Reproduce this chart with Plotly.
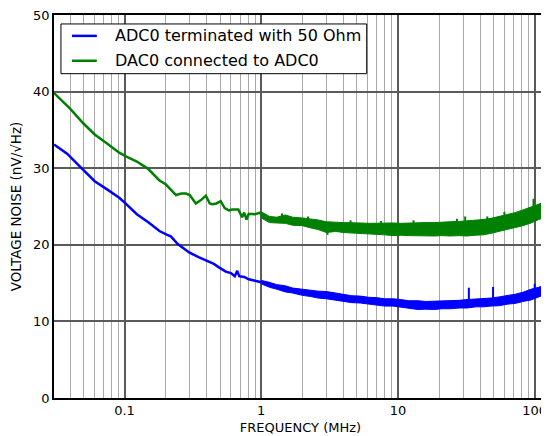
import plotly.graph_objects as go

# ---- low-frequency (clean) part of each trace ----
adc_f = [0.0305, 0.038, 0.0484, 0.0605, 0.075, 0.092, 0.103, 0.123, 0.15, 0.18, 0.205, 0.218,
         0.245, 0.27, 0.297, 0.351, 0.404, 0.45, 0.49, 0.55, 0.6, 0.64, 0.667, 0.69, 0.75,
         0.81, 0.9, 1.0]
adc_v = [33.1, 31.9, 30.0, 28.3, 27.2, 26.1, 25.3, 24.0, 22.9, 21.8, 21.3, 21.1,
         20.1, 19.6, 19.0, 18.35, 17.9, 17.5, 17.05, 16.5, 16.3, 15.9, 16.6, 15.9, 15.8,
         15.5, 15.3, 15.1]

dac_f = [0.0305, 0.0398, 0.0497, 0.0605, 0.0736, 0.092, 0.106, 0.122, 0.148, 0.18, 0.2,
         0.238, 0.26, 0.281, 0.30, 0.332, 0.36, 0.393, 0.42, 0.439, 0.47, 0.505, 0.54,
         0.58, 0.613, 0.68, 0.724, 0.75, 0.78, 0.81, 0.9, 0.98, 1.0]
dac_v = [39.8, 37.8, 35.9, 34.4, 33.3, 32.0, 31.4, 30.9, 29.95, 28.4, 27.9,
         26.5, 26.7, 26.7, 26.5, 25.4, 25.8, 26.4, 25.4, 25.3, 25.4, 25.7, 24.8,
         24.5, 24.6, 24.6, 23.6, 24.2, 23.3, 24.05, 24.0, 24.2, 23.9]

# ---- high-frequency noise band (lower / upper envelope) ----
band_f = [1.0, 1.15, 1.3, 1.5, 1.7, 2.0, 2.3, 2.6, 3.0, 3.5, 4.0, 4.6, 5.3, 6.1, 7.0, 8.0,
          9.2, 10.5, 12, 14, 16, 18.5, 21, 24, 28, 32, 37, 42, 48, 55, 63, 72, 82, 94, 107, 122]
adc_lo = [14.9, 14.45, 14.2, 13.85, 13.7, 13.4, 13.25, 13.05, 12.95, 12.75, 12.6, 12.45, 12.4,
          12.25, 12.15, 12.0, 12.0, 11.85, 11.75, 11.55, 11.6, 11.55, 11.65, 11.65, 11.75, 11.75,
          11.9, 11.9, 12.0, 12.05, 12.25, 12.35, 12.6, 12.8, 13.2, 13.55]
adc_hi = [15.35, 15.1, 14.8, 14.65, 14.35, 14.2, 14.05, 13.95, 13.9, 13.65, 13.5, 13.35, 13.3,
          13.15, 13.1, 12.95, 12.95, 12.85, 12.7, 12.7, 12.6, 12.65, 12.6, 12.7, 12.75, 12.85,
          12.9, 13.0, 13.05, 13.2, 13.35, 13.55, 13.8, 14.2, 14.45, 14.85]
dac_lo = [23.5, 22.9, 22.85, 22.8, 22.55, 22.5, 22.2, 22.0, 21.6, 21.75, 21.6, 21.55, 21.45,
          21.45, 21.35, 21.3, 21.2, 21.25, 21.2, 21.15, 21.2, 21.15, 21.2, 21.15, 21.2, 21.15,
          21.25, 21.3, 21.5, 21.75, 22.0, 22.2, 22.5, 22.85, 23.3, 23.6]
dac_hi = [24.3, 23.7, 23.6, 23.9, 23.6, 23.5, 23.4, 23.25, 23.0, 22.95, 22.9, 22.85, 22.85, 22.8,
          22.85, 22.8, 22.85, 22.8, 22.85, 22.85, 22.9, 22.9, 22.9, 23.0, 23.05, 23.1, 23.2, 23.3,
          23.45, 23.7, 23.95, 24.2, 24.55, 24.9, 25.3, 25.7]

# ---- isolated spurs (frequency, spur tip, level the spur starts from) ----
adc_spur_f = [33.0, 49.6, 100.0]
adc_spur_top = [14.4, 14.5, 14.9]
adc_spur_base = [12.6, 12.7, 13.6]
dac_spur_f = [1.42, 2.2, 3.05, 4.5, 7.5, 13.0, 27.0, 31.0, 45.0, 60.0, 98.0]
dac_spur_top = [24.1, 23.7, 21.3, 23.2, 23.1, 23.2, 23.4, 23.7, 23.7, 24.3, 26.0]
dac_spur_base = [23.3, 22.9, 22.3, 22.2, 22.1, 22.0, 22.0, 22.0, 22.3, 22.8, 24.0]

series_names = ["ADC0 terminated with 50 Ohm", "DAC0 connected to ADC0"]

x_ticks = [0.1, 1, 10, 100]
x_tick_text = ["0.1", "1", "10", "100"]
x_minor = [0.04, 0.05, 0.06, 0.07, 0.08, 0.09, 0.2, 0.3, 0.4, 0.5, 0.6, 0.7, 0.8, 0.9,
           2, 3, 4, 5, 6, 7, 8, 9, 20, 30, 40, 50, 60, 70, 80, 90]
y_ticks = [0, 10, 20, 30, 40, 50]

BLUE = "#0000ff"
GREEN = "#008000"

fig = go.Figure()


def add_series(name, color, f, v, lo, hi, spur_f, spur_top, spur_base):
    fig.add_trace(go.Scatter(x=band_f + band_f[::-1], y=lo + hi[::-1], mode="lines",
                             fill="toself", fillcolor=color,
                             line=dict(color=color, width=1), showlegend=False,
                             hoverinfo="skip"))
    sx, sy = [], []
    for fx, ft, fb in zip(spur_f, spur_top, spur_base):
        sx += [fx, fx, None]
        sy += [fb, ft, None]
    fig.add_trace(go.Scatter(x=sx, y=sy, mode="lines", line=dict(color=color, width=2),
                             showlegend=False, hoverinfo="skip"))
    fig.add_trace(go.Scatter(x=f, y=v, mode="lines", name=name, showlegend=False,
                             line=dict(color=color, width=2.5)))


add_series(series_names[0], BLUE, adc_f, adc_v, adc_lo, adc_hi,
           adc_spur_f, adc_spur_top, adc_spur_base)
add_series(series_names[1], GREEN, dac_f, dac_v, dac_lo, dac_hi,
           dac_spur_f, dac_spur_top, dac_spur_base)

# ---- legend box (drawn in paper coordinates) ----
fig.add_shape(type="rect", xref="paper", yref="paper", x0=0.0141, x1=0.6343,
              y0=0.8468, y1=0.9766, line=dict(color="black", width=1), fillcolor="white",
              layer="above")
for row_y, name, color in zip([0.9455, 0.8805], series_names, [BLUE, GREEN]):
    fig.add_shape(type="line", xref="paper", yref="paper", x0=0.0364, x1=0.0869,
                  y0=row_y, y1=row_y, line=dict(color=color, width=2.5), layer="above")
    fig.add_annotation(xref="paper", yref="paper", x=0.1192, y=row_y, text=name,
                       showarrow=False, xanchor="left", yanchor="middle",
                       font=dict(size=16, family="DejaVu Sans", color="black"))

# The page body adds an 8 px offset; size/margins compensate for it.
fig.update_layout(
    width=541, height=428,
    margin=dict(l=46, r=0, t=5, b=38),
    paper_bgcolor="white", plot_bgcolor="white",
    font=dict(family="DejaVu Sans", size=13, color="black"),
    showlegend=False,
    xaxis=dict(type="log", range=[-1.516, 2.09],
               tickvals=x_ticks, ticktext=x_tick_text, ticklabeloverflow="allow",
               showgrid=True, gridcolor="#5a5a5a", gridwidth=1.5,
               minor=dict(tickvals=x_minor, showgrid=True, gridcolor="#a8a8a8", gridwidth=1),
               showline=True, linecolor="black", linewidth=1.5, mirror=True,
               ticks="", zeroline=False,
               title=dict(text="FREQUENCY (MHz)", font=dict(size=13), standoff=6)),
    yaxis=dict(range=[0, 50], tickvals=y_ticks, ticklabeloverflow="allow",
               showgrid=True, gridcolor="#5a5a5a", gridwidth=1.5,
               showline=True, linecolor="black", linewidth=1.5, mirror=True,
               ticks="", zeroline=False,
               title=dict(text="VOLTAGE NOISE (nV/√Hz)", font=dict(size=13.5), standoff=8)),
)

fig.write_html("out.html")
